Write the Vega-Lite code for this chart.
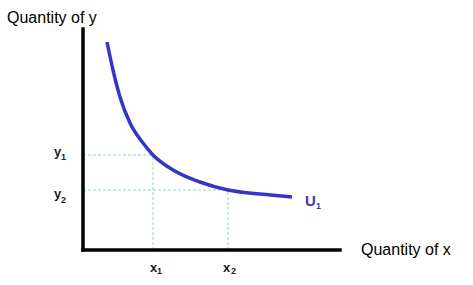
{
  "$schema": "https://vega.github.io/schema/vega-lite/v6.json",
  "width": 473,
  "height": 285,
  "autosize": "none",
  "padding": 0,
  "background": "white",
  "config": {"view": {"stroke": null}},
  "datasets": {
    "curve": [
      {"x": 24, "y": 208}, {"x": 30, "y": 180}, {"x": 37, "y": 153}, {"x": 47, "y": 127},
      {"x": 60, "y": 107}, {"x": 70, "y": 95}, {"x": 90, "y": 80}, {"x": 117, "y": 68},
      {"x": 145, "y": 60}, {"x": 177, "y": 56}, {"x": 209, "y": 53}
    ],
    "axes": [
      {"x": 0, "y": 0, "x2": 257, "y2": 0},
      {"x": 0, "y": 0, "x2": 0, "y2": 221}
    ],
    "guides": [
      {"x": 0, "y": 95, "x2": 70, "y2": 95},
      {"x": 70, "y": 0, "x2": 70, "y2": 95},
      {"x": 0, "y": 60, "x2": 145, "y2": 60},
      {"x": 145, "y": 0, "x2": 145, "y2": 60}
    ],
    "letters": [
      {"x": -29, "y": 94, "t": "y"},
      {"x": -29, "y": 52, "t": "y"},
      {"x": 67, "y": -22, "t": "x"},
      {"x": 140, "y": -22, "t": "x"}
    ],
    "subs": [
      {"x": -22, "y": 90, "t": "1"},
      {"x": -22, "y": 47, "t": "2"},
      {"x": 74, "y": -24, "t": "1"},
      {"x": 148, "y": -24, "t": "2"}
    ],
    "titles": [
      {"x": -76, "y": 232, "t": "Quantity of y"},
      {"x": 278, "y": 0, "t": "Quantity of x"}
    ],
    "curvelabel": [{"x": 222, "y": 44, "t": "U"}],
    "curvesub": [{"x": 233, "y": 41, "t": "1"}]
  },
  "encoding": {
    "x": {"field": "x", "type": "quantitative", "scale": {"domain": [-83, 390], "nice": false, "zero": false}, "axis": null},
    "y": {"field": "y", "type": "quantitative", "scale": {"domain": [-35, 250], "nice": false, "zero": false}, "axis": null}
  },
  "layer": [
    {
      "data": {"name": "guides"},
      "mark": {"type": "rule", "color": "#8fd8c0", "strokeWidth": 1, "strokeDash": [3, 2]},
      "encoding": {"x2": {"field": "x2"}, "y2": {"field": "y2"}}
    },
    {
      "data": {"name": "axes"},
      "mark": {"type": "rule", "color": "black", "strokeWidth": 3.5, "strokeCap": "square"},
      "encoding": {"x2": {"field": "x2"}, "y2": {"field": "y2"}}
    },
    {
      "data": {"name": "curve"},
      "mark": {"type": "line", "interpolate": "monotone", "color": "#3535c8", "strokeWidth": 3.5},
      "encoding": {}
    },
    {
      "data": {"name": "letters"},
      "mark": {"type": "text", "font": "Liberation Sans", "fontSize": 13, "fontWeight": "bold", "color": "#1c1c2a", "align": "left", "baseline": "alphabetic"},
      "encoding": {"text": {"field": "t"}}
    },
    {
      "data": {"name": "subs"},
      "mark": {"type": "text", "font": "Liberation Sans", "fontSize": 9, "fontWeight": "bold", "color": "#1c1c2a", "align": "left", "baseline": "alphabetic"},
      "encoding": {"text": {"field": "t"}}
    },
    {
      "data": {"name": "titles"},
      "mark": {"type": "text", "font": "Liberation Sans", "fontSize": 16, "color": "black", "align": "left", "baseline": "middle"},
      "encoding": {"text": {"field": "t"}}
    },
    {
      "data": {"name": "curvelabel"},
      "mark": {"type": "text", "font": "Liberation Sans", "fontSize": 15, "fontWeight": "bold", "color": "#3d3da8", "align": "left", "baseline": "alphabetic"},
      "encoding": {"text": {"field": "t"}}
    },
    {
      "data": {"name": "curvesub"},
      "mark": {"type": "text", "font": "Liberation Sans", "fontSize": 9, "fontWeight": "bold", "color": "#3d3da8", "align": "left", "baseline": "alphabetic"},
      "encoding": {"text": {"field": "t"}}
    }
  ]
}
